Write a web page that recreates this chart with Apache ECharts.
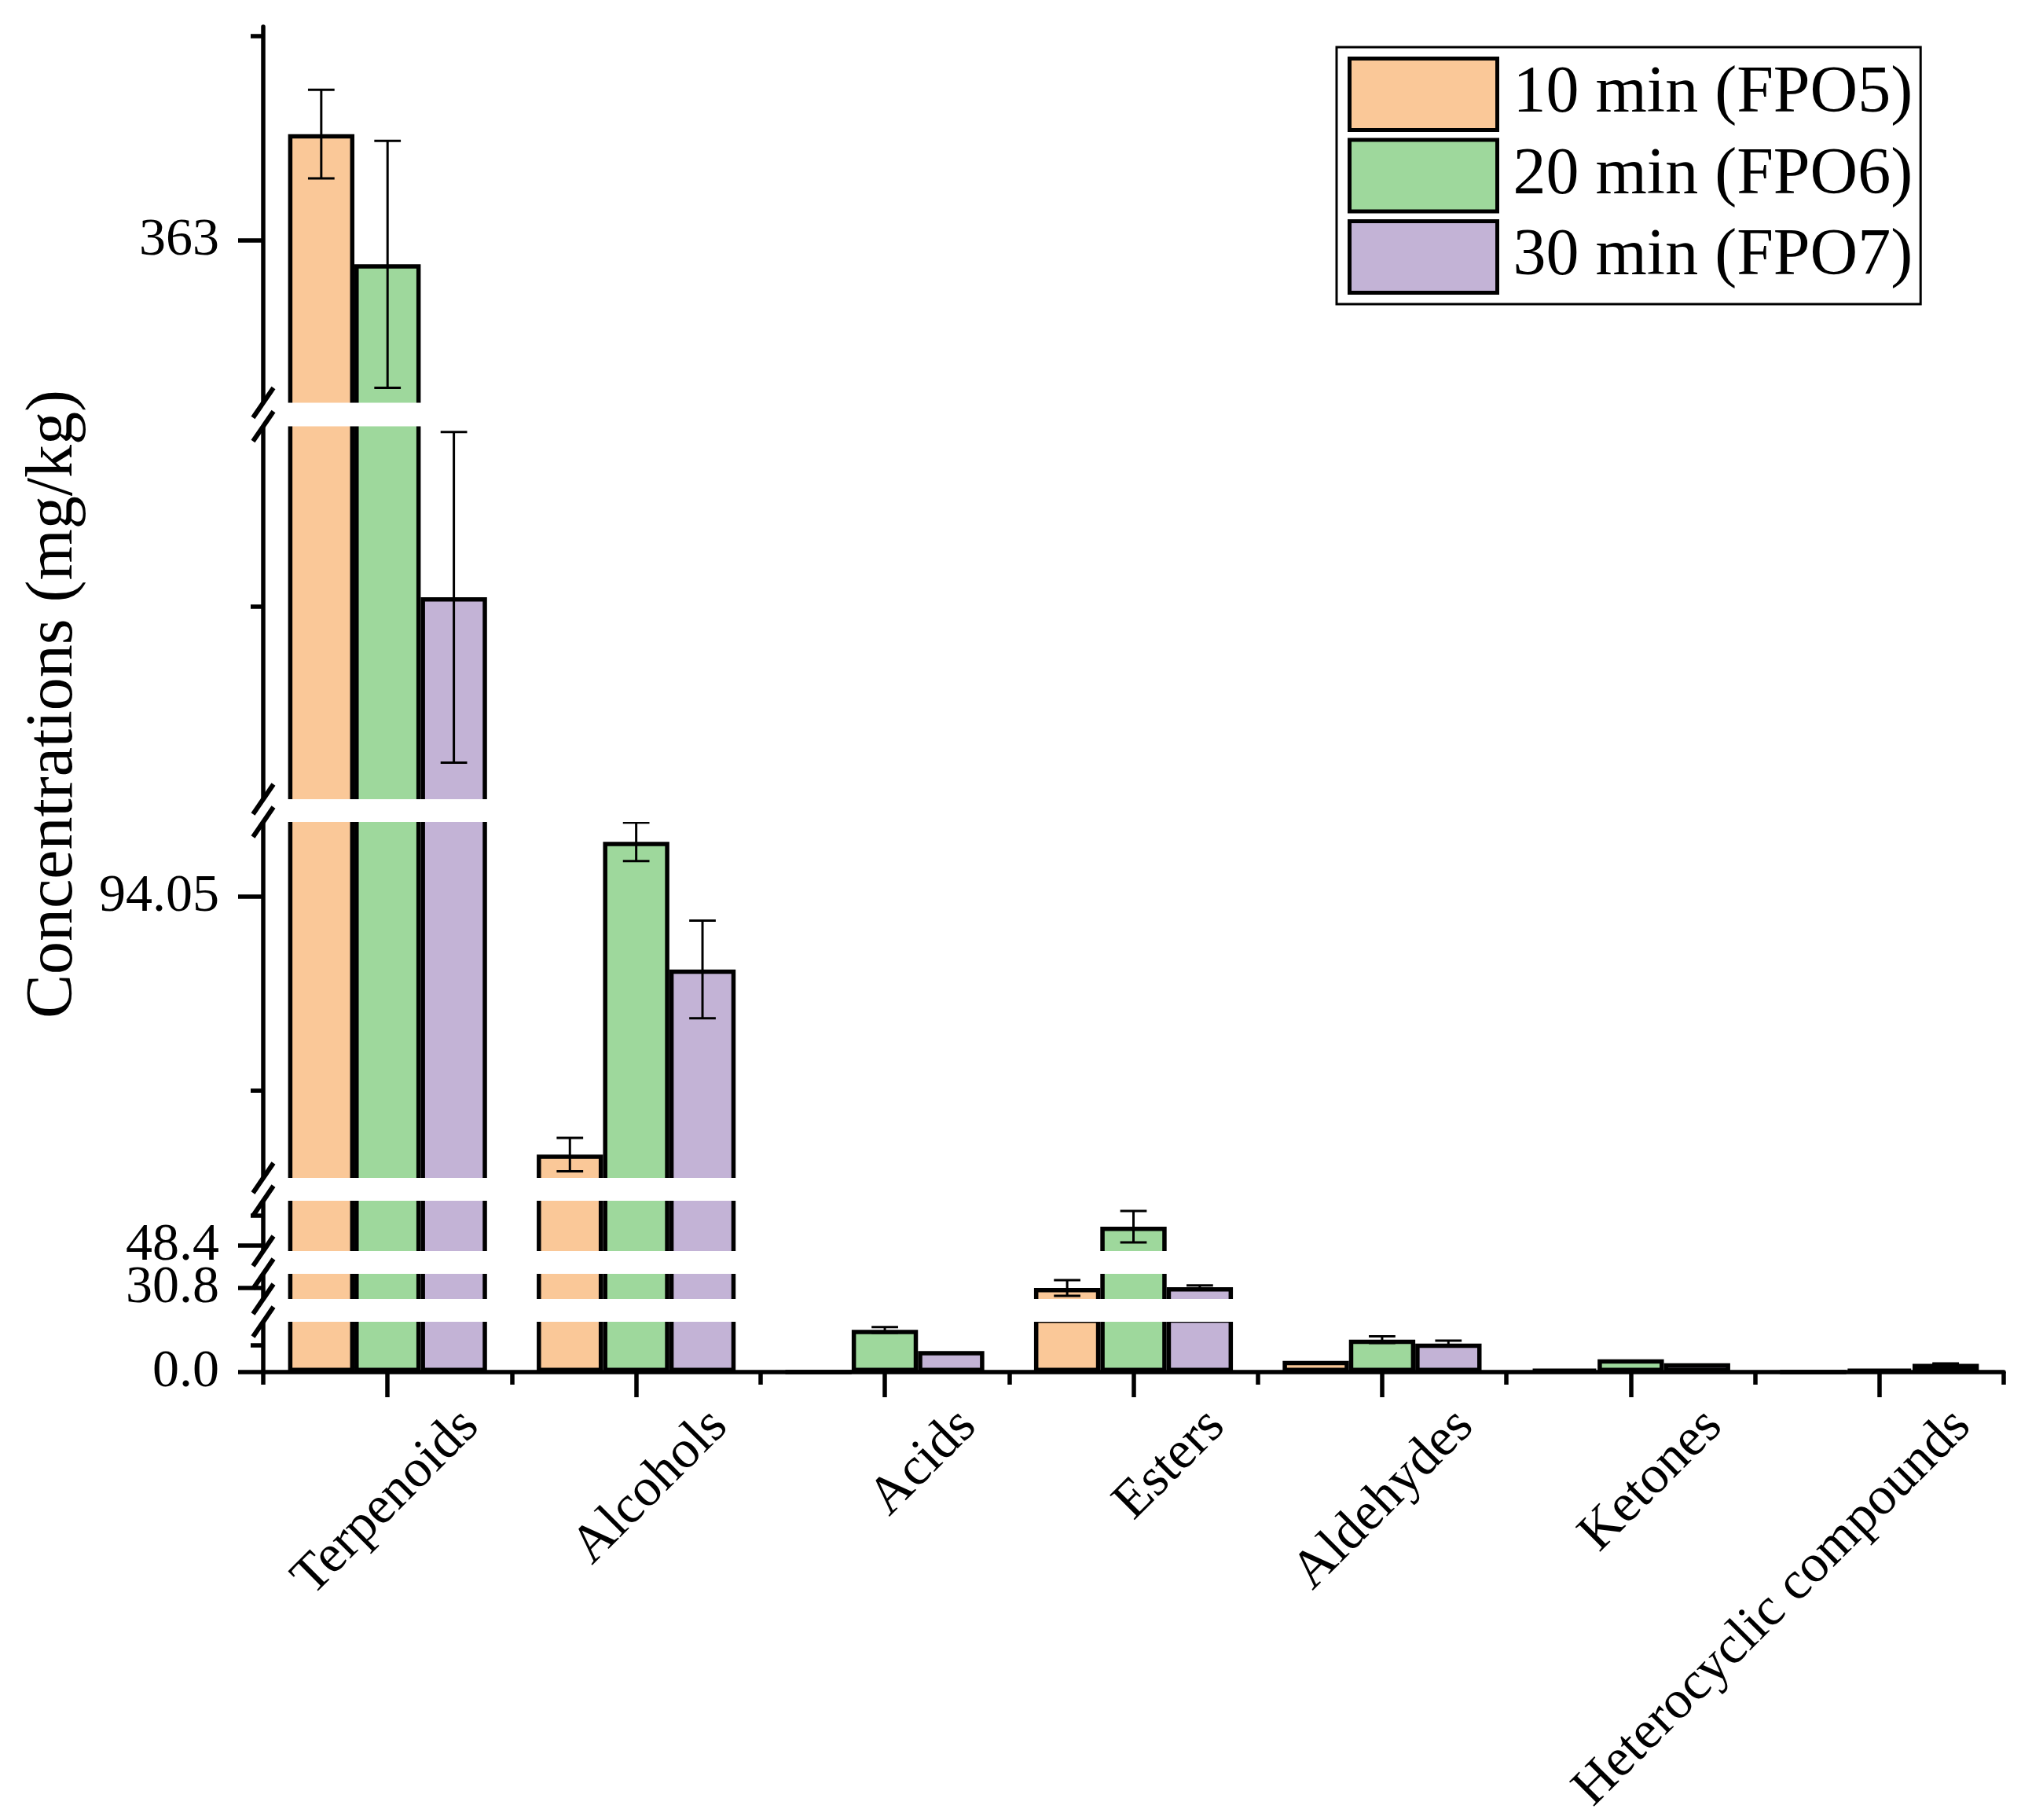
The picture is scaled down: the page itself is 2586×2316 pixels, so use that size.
<!DOCTYPE html>
<html>
<head>
<meta charset="utf-8">
<script src="https://cdn.jsdelivr.net/npm/echarts@6/dist/echarts.min.js"></script>
<style>html,body{margin:0;padding:0;background:#fff}#c{width:2586px;height:2316px}</style>
</head>
<body>
<div id="c"></div>
<script>
// ---------------- data ----------------
const categories = ['Terpenoids', 'Alcohols', 'Acids', 'Esters', 'Aldehydes', 'Ketones', 'Heterocyclic compounds'];
const seriesNames = ['10 min (FPO5)', '20 min (FPO6)', '30 min (FPO7)'];
const fpo5 = [382.2, 68.7, 0, 30.8, 6.5, 1.6, 0];
const fpo6 = [358.7, 99.45, 24.3, 50.8, 18.7, 7.4, 1.6];
const fpo7 = [228.5, 86.9, 12.1, 30.9, 16.4, 5.1, 4.8];
const fpo5Err = [8.0, 1.65, 0, 1.0, 0, 0, 0];
const fpo6Err = [22.3, 1.9, 1.6, 2.0, 1.9, 0, 0];
const fpo7Err = [64.3, 4.8, 0, 0.22, 1.7, 0, 0.2];
// broken y axis: value range of each segment, bottom to top
const segMin = [0, 29.4, 47.7, 66.4, 150, 333.7];
const segMax = [29.0, 32.6, 54.1, 101.4, 295, 401.6];
const majorTickValues = [0, 30.8, 48.4, 94.05, 363];
const majorTickLabels = ['0.0', '30.8', '48.4', '94.05', '363'];
const minorTickValues = [15.4, 52.2, 75, 225, 400];
const yAxisTitle = 'Concentrations (mg/kg)';

// ---------------- layout / style ----------------
const FONT = 'Liberation Serif';
const segTopPx = [1682, 1621, 1528, 1046, 542.5, 34];
const segBottomPx = [1746, 1653, 1592, 1499, 1017, 512.5];
const EXT = 8;
const AXIS_X = 335, PLOT_RIGHT = 2550;
const colors = ['#FAC898', '#9ED89C', '#C3B3D6'];
const values = [fpo5, fpo6, fpo7];
const errors = [fpo5Err, fpo6Err, fpo7Err];
const LW = 5.5;

function labelFor(v) {
  for (let i = 0; i < majorTickValues.length; i++) {
    if (Math.abs(majorTickValues[i] - v) < 1e-6) return majorTickLabels[i];
  }
  return '';
}

function renderErr(params, api) {
  const cat = api.value(0), s = api.value(1), v = api.value(2), e = api.value(3);
  const catW = api.size([1, 0])[0];
  const barW = catW * 0.8 / 3;
  const cx = api.coord([cat, v])[0] + (s - 1) * barW;
  const yT = api.coord([cat, v + e])[1];
  const yB = api.coord([cat, v - e])[1];
  const cap = barW * 0.2;
  const st = {stroke: '#000', lineWidth: 3};
  return {type: 'group', children: [
    {type: 'line', shape: {x1: cx, y1: yT, x2: cx, y2: yB}, style: st},
    {type: 'line', shape: {x1: cx - cap, y1: yT, x2: cx + cap, y2: yT}, style: st},
    {type: 'line', shape: {x1: cx - cap, y1: yB, x2: cx + cap, y2: yB}, style: st}
  ]};
}

const grids = [], xAxes = [], yAxes = [], series = [];
for (let i = 0; i < 6; i++) {
  const top = segTopPx[i] - (i < 5 ? EXT : 0);
  const bottom = segBottomPx[i] + (i > 0 ? EXT : 0);
  const k = (segBottomPx[i] - segTopPx[i]) / (segMax[i] - segMin[i]);
  const amin = segMin[i] - (bottom - segBottomPx[i]) / k;
  const amax = segMax[i] + (segTopPx[i] - top) / k;
  grids.push({left: AXIS_X, width: PLOT_RIGHT - AXIS_X, top: top, height: bottom - top, outerBoundsMode: 'none', containLabel: false});

  xAxes.push({
    type: 'category', gridIndex: i, data: categories, show: i === 0, position: 'bottom',
    axisLine: {show: true, onZero: false, lineStyle: {color: '#000', width: LW}},
    axisTick: {show: true, alignWithLabel: true, interval: 0, length: 32, lineStyle: {color: '#000', width: LW}},
    axisLabel: {show: i === 0, interval: 0, rotate: 45, align: 'right', verticalAlign: 'top', margin: -47,
      padding: [115, 0, 0, 0], lineHeight: 69, fontFamily: FONT, fontSize: 68.5, color: '#000'},
    splitLine: {show: false}
  });

  const majors = majorTickValues.filter(v => v >= segMin[i] && v <= segMax[i]);
  yAxes.push({
    type: 'value', gridIndex: i, position: 'left', min: amin, max: amax,
    axisLine: {show: true, onZero: false, lineStyle: {color: '#000', width: LW}},
    axisTick: {show: majors.length > 0, customValues: majors, length: 32, lineStyle: {color: '#000', width: LW}},
    axisLabel: {show: majors.length > 0, customValues: majors, formatter: labelFor, margin: 56,
      showMinLabel: true, showMaxLabel: true, fontFamily: FONT, fontSize: 68, color: '#000'},
    splitLine: {show: false}
  });

  for (let s = 0; s < 3; s++) {
    series.push({
      type: 'bar', name: seriesNames[s], xAxisIndex: i, yAxisIndex: i, data: values[s],
      barGap: '0%', barCategoryGap: '20%', clip: true, z: 2,
      itemStyle: {color: colors[s], borderColor: '#000', borderWidth: LW},
      emphasis: {disabled: true}
    });
  }
  const errData = [];
  for (let s = 0; s < 3; s++) {
    for (let c = 0; c < categories.length; c++) {
      const v = values[s][c], e = errors[s][c];
      if (e > 0 && v >= segMin[i] && v <= segMax[i]) errData.push([c, s, v, e]);
    }
  }
  series.push({type: 'custom', xAxisIndex: i, yAxisIndex: i, data: errData, encode: {x: 0, y: 2},
    renderItem: renderErr, z: 5, silent: true});
}
// minor y ticks
for (let i = 0; i < 6; i++) {
  const minors = minorTickValues.filter(v => v >= segMin[i] && v <= segMax[i]);
  yAxes.push({
    type: 'value', gridIndex: i, position: 'left', offset: 0, min: yAxes[i].min, max: yAxes[i].max,
    axisLine: {show: false},
    axisTick: {show: minors.length > 0, customValues: minors, length: 16, lineStyle: {color: '#000', width: LW}},
    axisLabel: {show: false}, splitLine: {show: false}
  });
}
// boundary (minor) ticks on the category axis
xAxes.push({
  type: 'category', gridIndex: 0, data: categories, position: 'bottom', offset: 0,
  axisLine: {show: false, onZero: false},
  axisTick: {show: true, alignWithLabel: false, interval: 0, length: 16, lineStyle: {color: '#000', width: LW}},
  axisLabel: {show: false}, splitLine: {show: false}
});

// break marks
const gfx = [];
for (let g = 0; g < 5; g++) {
  const y1 = segBottomPx[g + 1], y2 = segTopPx[g];
  gfx.push({type: 'rect', shape: {x: 318, y: y1, width: 2560 - 318, height: y2 - y1}, style: {fill: '#fff'}, z: 100});
  [y1, y2].forEach(cy => gfx.push({type: 'line', shape: {x1: AXIS_X - 13, y1: cy + 19, x2: AXIS_X + 13, y2: cy - 19},
    style: {stroke: '#000', lineWidth: 6}, z: 101}));
}
gfx.push({type: 'text', x: 69, y: 896, rotation: Math.PI / 2, z: 101,
  style: {text: yAxisTitle, fontFamily: FONT, fontSize: 84, fill: '#000', align: 'center', verticalAlign: 'middle', textAlign: 'center', textVerticalAlign: 'middle'}});

const chart = echarts.init(document.getElementById('c'), null, {renderer: 'canvas'});
chart.setOption({
  animation: false,
  backgroundColor: '#fff',
  grid: grids,
  xAxis: xAxes,
  yAxis: yAxes,
  legend: {
    data: seriesNames, left: 1701, top: 60, orient: 'vertical',
    itemWidth: 188, itemHeight: 91, itemGap: 7.5, icon: 'rect',
    padding: [12, 10, 12, 14], borderColor: '#000', borderWidth: 3,
    itemStyle: {borderColor: '#000', borderWidth: 5},
    textStyle: {fontFamily: FONT, fontSize: 84, lineHeight: 91, color: '#000', padding: [0, 0, 0, 15]}
  },
  graphic: gfx,
  series: series
});
</script>
</body>
</html>
